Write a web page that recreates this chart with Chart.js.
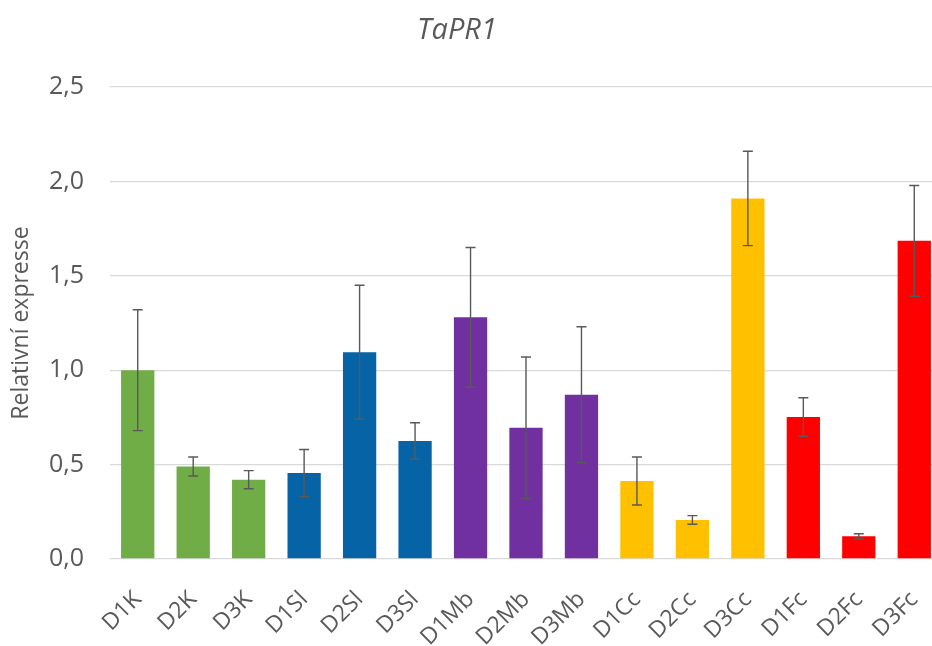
<!DOCTYPE html>
<html>
<head>
<meta charset="utf-8">
<script src="https://cdn.jsdelivr.net/npm/chart.js@4.4.1/dist/chart.umd.min.js"></script>
<style>
  html, body { margin: 0; padding: 0; background: #fff; overflow: hidden; }
  #wrap { width: 942px; height: 646px; }
</style>
</head>
<body>
<div id="wrap"><canvas id="c" width="942" height="646"></canvas></div>
<script>
const categories = ['D1K','D2K','D3K','D1Sl','D2Sl','D3Sl','D1Mb','D2Mb','D3Mb','D1Cc','D2Cc','D3Cc','D1Fc','D2Fc','D3Fc'];
const values     = [1.00, 0.49, 0.42, 0.455, 1.095, 0.625, 1.28, 0.695, 0.87, 0.413, 0.207, 1.91, 0.752, 0.12, 1.685];
const errors     = [0.32, 0.05, 0.048, 0.125, 0.355, 0.097, 0.37, 0.375, 0.36, 0.127, 0.023, 0.25, 0.102, 0.014, 0.293];
const barColors  = ['#70AD47','#70AD47','#70AD47','#0563A6','#0563A6','#0563A6','#7030A0','#7030A0','#7030A0','#FFC000','#FFC000','#FFC000','#FF0000','#FF0000','#FF0000'];
const yTicks     = [0, 0.5, 1.0, 1.5, 2.0, 2.5];
const titleText  = 'TaPR1';
const yTitle     = 'Relativní expresse';

const FONT = "'Open Sans', 'Noto Sans', sans-serif";
const TXT = '#595959';

const errorBars = {
  id: 'errorBars',
  afterDatasetsDraw(chart) {
    const meta = chart.getDatasetMeta(0);
    const y = chart.scales.y;
    const ctx = chart.ctx;
    ctx.save();
    ctx.strokeStyle = '#595959';
    ctx.lineWidth = 1.4;
    meta.data.forEach((bar, i) => {
      const v = values[i], e = errors[i];
      const top = y.getPixelForValue(v + e);
      const bot = y.getPixelForValue(v - e);
      const x = bar.x;
      ctx.beginPath();
      ctx.moveTo(x, top); ctx.lineTo(x, bot);
      ctx.moveTo(x - 5, top); ctx.lineTo(x + 5, top);
      ctx.moveTo(x - 5, bot); ctx.lineTo(x + 5, bot);
      ctx.stroke();
    });
    ctx.restore();
  }
};

const chartTitle = {
  id: 'chartTitle',
  afterDraw(chart) {
    const ctx = chart.ctx;
    ctx.save();
    ctx.font = "italic 29px " + FONT;
    ctx.fillStyle = TXT;
    ctx.textAlign = 'center';
    ctx.textBaseline = 'middle';
    ctx.fillText(titleText, 457, 31);
    ctx.restore();
  }
};

new Chart(document.getElementById('c'), {
  type: 'bar',
  data: {
    labels: categories,
    datasets: [{
      data: values,
      backgroundColor: barColors,
      borderWidth: 0,
      barPercentage: 0.6,
      categoryPercentage: 1.0
    }]
  },
  options: {
    responsive: false,
    animation: false,
    devicePixelRatio: 1,
    layout: { padding: { top: 87, left: 0, right: 0, bottom: 0 } },
    plugins: {
      legend: { display: false },
      tooltip: { enabled: false },
      title: { display: false }
    },
    scales: {
      x: {
        grid: { display: false, drawTicks: false },
        border: { display: false },
        ticks: {
          autoSkip: false,
          minRotation: 45,
          maxRotation: 45,
          padding: 27,
          color: TXT,
          font: { family: FONT, size: 23 }
        },
        afterFit(scale) {
          scale.height = 87;
          scale.paddingLeft = 0;
          scale.paddingRight = 0;
        }
      },
      y: {
        min: 0,
        max: 2.5,
        afterBuildTicks(scale) { scale.ticks = yTicks.map(v => ({ value: v })); },
        grid: { color: '#D9D9D9', lineWidth: 1.3, drawTicks: false },
        border: { display: false },
        ticks: {
          padding: 26,
          color: TXT,
          font: { family: FONT, size: 25 },
          callback: (v) => Number(v).toFixed(1).replace('.', ',')
        },
        title: {
          display: true,
          text: yTitle,
          color: TXT,
          font: { family: FONT, size: 23 },
          padding: { top: 8, bottom: 0 }
        },
        afterFit(scale) { scale.width = 110; }
      }
    }
  },
  plugins: [errorBars, chartTitle]
});
</script>
</body>
</html>
